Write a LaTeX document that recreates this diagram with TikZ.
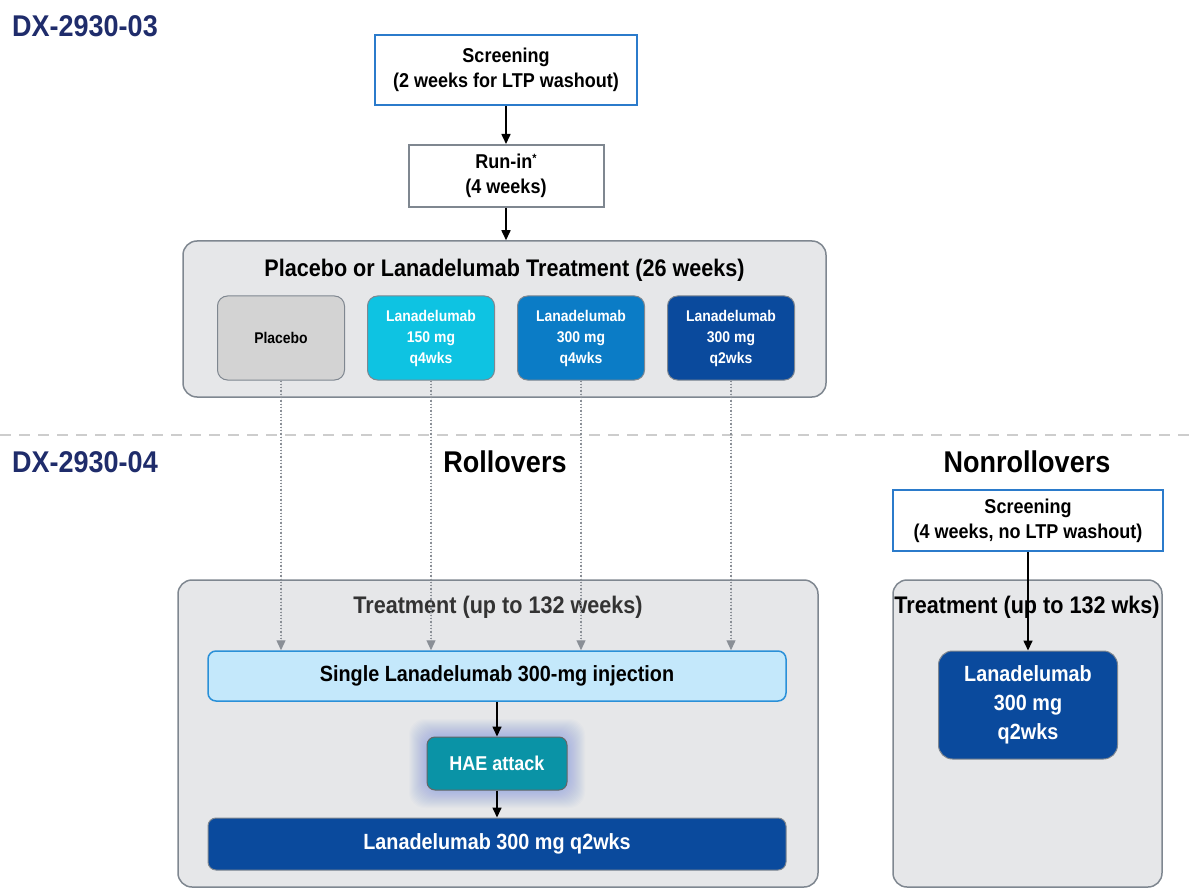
\documentclass[tikz,border=0pt]{standalone}
\usepackage{fontspec}
\setmainfont{Liberation Sans}[FakeStretch=0.9]
\usepackage{xcolor}
\usepackage{tikz}
\usetikzlibrary{arrows.meta,positioning,calc}

\definecolor{dxnavy}{HTML}{1F2C6B}
\definecolor{scrblue}{HTML}{2B7BCB}
\definecolor{boxgray}{HTML}{7F8790}
\definecolor{panelfill}{HTML}{E6E7E9}
\definecolor{placebofill}{HTML}{D3D3D3}
\definecolor{lancyan}{HTML}{0EC3E2}
\definecolor{lanmid}{HTML}{0B7CC6}
\definecolor{landark}{HTML}{0A4A9D}
\definecolor{injfill}{HTML}{C4E8FB}
\definecolor{injdraw}{HTML}{2A90D8}
\definecolor{haeteal}{HTML}{0A93A6}
\definecolor{glowblue}{HTML}{4F6FE0}
\definecolor{sepgray}{HTML}{CDCDCD}
\definecolor{rollgray}{HTML}{8A8F96}

\tikzset{
  study/.style={text=dxnavy, font=\bfseries\fontsize{30}{34}\selectfont},
  heading/.style={font=\bfseries\fontsize{30}{34}\selectfont},
  stepbox/.style={draw, rectangle, fill=white, line width=2pt, align=center, inner sep=0pt,
    font=\bfseries\fontsize{20}{25}\selectfont},
  panel/.style={draw=boxgray, line width=1.5pt, fill=panelfill, rounded corners=14pt, inner sep=0pt},
  paneltitle/.style={font=\bfseries\fontsize{24}{28}\selectfont},
  arm/.style={draw=boxgray, line width=1pt, rounded corners=10pt, minimum width=127pt,
    minimum height=84pt, inner sep=0pt, align=center, text=white,
    font=\bfseries\fontsize{15.5}{21}\selectfont},
  wide/.style={draw, line width=1.5pt, rounded corners=8pt, minimum width=578pt,
    inner sep=0pt, align=center, font=\bfseries\fontsize{22}{26}\selectfont},
  flow/.style={-{Triangle[length=10pt,width=9pt]}, line width=1.6pt},
  roll/.style={-{Triangle[length=10pt,width=9pt]}, draw=rollgray, fill=rollgray, dotted, line width=1.3pt}
}

\begin{document}
\begin{tikzpicture}[x=1pt, y=-1pt]
    \useasboundingbox (0,0) rectangle (1196,890);

    % Study labels and divider
    \node[study] (dx03) at (85,26) {DX-2930-03};
    \draw[sepgray, dashed, dash pattern=on 11pt off 8pt, line width=2pt] (0,435) -- (1196,435);
    \node[study] (dx04) at (85,462) {DX-2930-04};
    \node[heading] (rollhead) at (505,462) {Rollovers};
    \node[heading] (nonrollhead) at (1027,462) {Nonrollovers};

    % DX-2930-03
    \node[stepbox, draw=scrblue, minimum width=262pt, minimum height=70pt] (screening) at (506,70)
        {Screening\\(2 weeks for LTP washout)};
    \node[stepbox, draw=boxgray, minimum width=195pt, minimum height=62pt, below=38pt of screening] (runin)
        {Run-in\raisebox{6pt}{\fontsize{12}{12}\selectfont *}\\(4 weeks)};
    \node[panel, minimum width=643pt, minimum height=156pt] (phase3) at (504.5,319) {};
    \node[paneltitle] (phase3title) at (504.5,270) {Placebo or Lanadelumab Treatment (26 weeks)};

    \node[arm, fill=placebofill, text=black] (placebo) at (281,338) {Placebo};
    \node[arm, fill=lancyan, right=22pt of placebo] (lan150) {Lanadelumab\\150 mg\\q4wks};
    \node[arm, fill=lanmid, right=22pt of lan150] (lan300q4) {Lanadelumab\\300 mg\\q4wks};
    \node[arm, fill=landark, right=22pt of lan300q4] (lan300q2) {Lanadelumab\\300 mg\\q2wks};

    \draw[flow] (screening) -- (runin);
    \draw[flow] (runin.south) -- (runin.south |- phase3.north);

    % DX-2930-04, rollovers
    \node[panel, minimum width=640pt, minimum height=307pt] (rollpanel) at (498,733.5) {};
    \node[paneltitle, text=black!80] (rolltitle) at (498,607) {Treatment (up to 132 weeks)};
    \node[wide, draw=injdraw, fill=injfill, minimum height=50pt] (single) at (497,676)
        {Single Lanadelumab 300-mg injection};
    \foreach \g in {1,...,18}
        \fill[glowblue, opacity=0.022, rounded corners=16pt] (427-\g,737-\g) rectangle (567+\g,790+\g);
    \node[draw=black!60, line width=1pt, fill=haeteal, rounded corners=8pt, minimum width=140pt,
        minimum height=53pt, text=white, font=\bfseries\fontsize{20}{24}\selectfont] (hae) at (497,763.5)
        {HAE attack};
    \node[wide, draw=boxgray, line width=1pt, fill=landark, text=white, minimum height=52pt] (maint) at (497,844)
        {Lanadelumab 300 mg q2wks};

    \foreach \arm in {placebo, lan150, lan300q4, lan300q2}
        \draw[roll] (\arm.south) -- (\arm.south |- single.north);
    \draw[flow] (single) -- (hae);
    \draw[flow] (hae) -- (maint);

    % DX-2930-04, nonrollovers
    \node[panel, minimum width=269pt, minimum height=307pt] (nrpanel) at (1027.5,733.5) {};
    \node[paneltitle] (nrtitle) at (1027,607) {Treatment (up to 132 wks)};
    \node[stepbox, draw=scrblue, minimum width=270pt, minimum height=61pt] (nrscreen) at (1028,520.5)
        {Screening\\(4 weeks, no LTP washout)};
    \node[draw=boxgray, line width=1pt, fill=landark, rounded corners=14pt, minimum width=179pt,
        minimum height=108pt, align=center, text=white, font=\bfseries\fontsize{22}{29}\selectfont]
        (nrlan) at (1028,705) {Lanadelumab\\300 mg\\q2wks};
    \draw[flow] (nrscreen) -- (nrlan);
\end{tikzpicture}
\end{document}
